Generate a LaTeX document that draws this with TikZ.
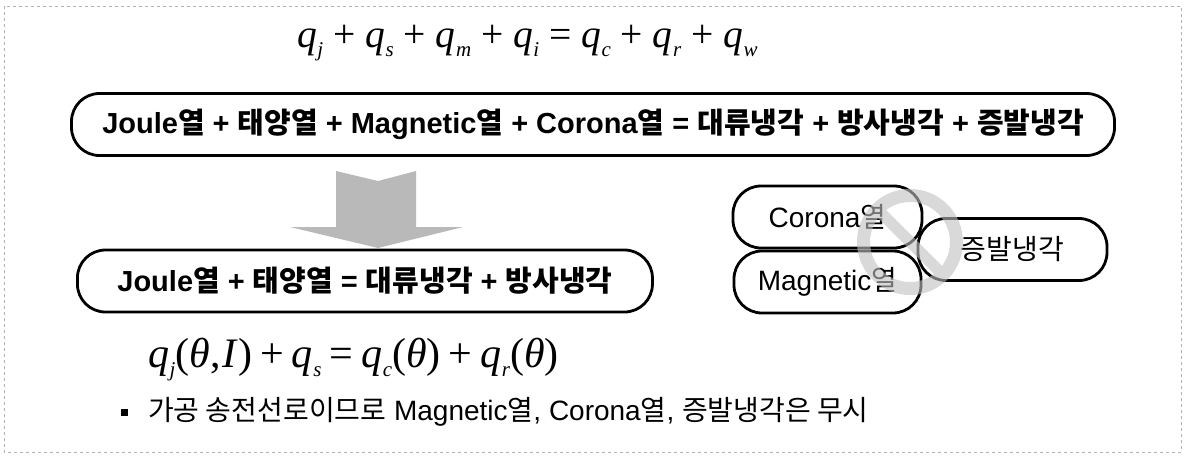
\documentclass[tikz,border=0pt]{standalone}
\usepackage{fontspec}
\setmainfont{Liberation Sans}
\newfontfamily\kr{Noto Sans CJK KR}
\newfontfamily\tms{Liberation Serif}
\newcommand\K[1]{{\kr #1}}
\newcommand\qsub[1]{\textit{q}\kern0.5pt\raisebox{-9pt}{\fontsize{21}{21}\selectfont\textit{#1}}}
\newcommand\opsp[1]{\kern8pt#1\kern8pt}
\begin{document}
\begin{tikzpicture}[x=1pt,y=-1pt,
  pill/.style={draw=black, line width=2.8pt, rounded corners=28pt, minimum height=62pt, inner xsep=0pt},
  boxtxt/.style={font=\fontsize{29}{32}\selectfont\bfseries},
  side/.style={font=\fontsize{28}{30}\selectfont},
  eqn/.style={font=\tms\fontsize{39.5}{44}\selectfont, inner sep=0pt},
  ringfill/.style={fill=gray!50},
]
\useasboundingbox (0,0) rectangle (1186,456);
\draw[gray!60, dashed, line width=0.6pt] (4,6) rectangle (1181,452);

% top equation
\node[eqn, anchor=base west] (eq1) at (297,47)
  {\qsub{j} + \qsub{s} + \qsub{m} + \qsub{i} = \qsub{c} + \qsub{r} + \qsub{w}};

% box 1
\node[pill, boxtxt, minimum width=1043pt] (b1) at (593,124.5)
  {Joule\K{열} + \K{태양열} + Magnetic\K{열} + Corona\K{열} = \K{대류냉각} + \K{방사냉각} + \K{증발냉각}};

% block arrow
\fill[gray!55] (336,171) -- (378,181) -- (416,171) -- (416,227) -- (463,227)
  -- (378,248) -- (290,227) -- (336,227) -- cycle;

% box 2
\node[pill, boxtxt, anchor=west, inner xsep=40pt] (b2) at (76,281)
  {Joule\K{열} + \K{태양열} = \K{대류냉각} + \K{방사냉각}};

% second equation
\node[eqn, font=\tms\fontsize{42}{46}\selectfont, anchor=base west] (eq2) at (148,367)
  {\qsub{j}(\textit{θ},\kern2pt\textit{I})\opsp{+}\qsub{s}\opsp{=}\qsub{c}(\textit{θ})\opsp{+}\qsub{r}(\textit{θ})};

% right cluster
\node[pill, side, minimum width=189pt] (cor) at (827.5,217) {Corona\K{열}};
\node[pill, side, minimum width=187pt] (mag) at (827.5,282) {Magnetic\K{열}};
\node[pill, side, minimum width=189pt] (eva) at (1012.5,249.5) {\K{증발냉각}};

% prohibition sign
\begin{scope}[transparency group, opacity=0.6]
  \fill[ringfill, even odd rule] (910,242) circle (53) (910,242) circle (40);
  \begin{scope}
    \clip (910,242) circle (41);
    \fill[ringfill] (882.8,206.8) -- (953.5,277.5) -- (937.2,277.2) -- (866.5,206.5) -- cycle;
  \end{scope}
\end{scope}

% bullet
\node[fill=black, minimum size=7pt, inner sep=0pt] (bul) at (124,412) {};
\node[anchor=west, font=\fontsize{28}{30}\selectfont, inner sep=0pt] (note) at (148,412)
  {\K{가공 송전선로이므로} Magnetic\K{열}, Corona\K{열}, \K{증발냉각은 무시}};
\end{tikzpicture}
\end{document}
